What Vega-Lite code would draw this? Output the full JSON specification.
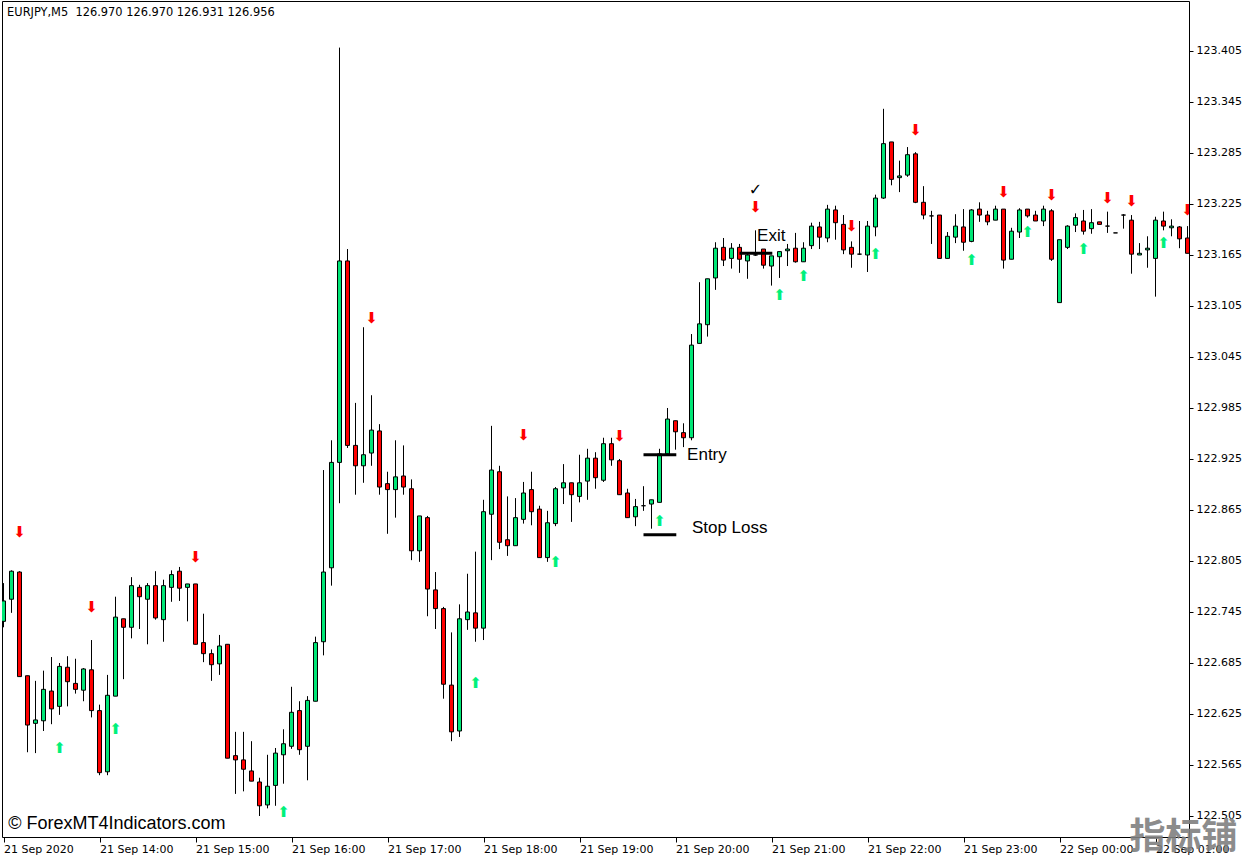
{
"$schema": "https://vega.github.io/schema/vega-lite/v6.json",
"width": 1187,
"height": 836,
"autosize": {"type": "none"},
"padding": {"left": 2, "top": 1, "right": 64, "bottom": 25},
"background": "white",
"config": {"view": {"stroke": "black", "strokeWidth": 1}},
"datasets": {
"candles": [
{"i":0,"o":122.734,"h":122.779,"l":122.727,"c":122.758},
{"i":1,"o":122.760,"h":122.794,"l":122.744,"c":122.793},
{"i":2,"o":122.792,"h":122.793,"l":122.669,"c":122.669},
{"i":3,"o":122.670,"h":122.670,"l":122.580,"c":122.612},
{"i":4,"o":122.614,"h":122.664,"l":122.579,"c":122.618},
{"i":5,"o":122.617,"h":122.676,"l":122.605,"c":122.654},
{"i":6,"o":122.652,"h":122.692,"l":122.613,"c":122.631},
{"i":7,"o":122.634,"h":122.685,"l":122.624,"c":122.681},
{"i":8,"o":122.680,"h":122.693,"l":122.634,"c":122.663},
{"i":9,"o":122.661,"h":122.690,"l":122.649,"c":122.654},
{"i":10,"o":122.653,"h":122.679,"l":122.640,"c":122.678},
{"i":11,"o":122.677,"h":122.712,"l":122.621,"c":122.629},
{"i":12,"o":122.629,"h":122.636,"l":122.553,"c":122.556},
{"i":13,"o":122.557,"h":122.671,"l":122.553,"c":122.647},
{"i":14,"o":122.646,"h":122.763,"l":122.646,"c":122.739},
{"i":15,"o":122.737,"h":122.737,"l":122.666,"c":122.727},
{"i":16,"o":122.727,"h":122.786,"l":122.714,"c":122.776},
{"i":17,"o":122.774,"h":122.777,"l":122.725,"c":122.763},
{"i":18,"o":122.760,"h":122.779,"l":122.707,"c":122.776},
{"i":19,"o":122.776,"h":122.793,"l":122.736,"c":122.738},
{"i":20,"o":122.736,"h":122.783,"l":122.710,"c":122.776},
{"i":21,"o":122.774,"h":122.794,"l":122.757,"c":122.789},
{"i":22,"o":122.793,"h":122.798,"l":122.758,"c":122.773},
{"i":23,"o":122.774,"h":122.778,"l":122.734,"c":122.778},
{"i":24,"o":122.778,"h":122.778,"l":122.707,"c":122.707},
{"i":25,"o":122.709,"h":122.743,"l":122.686,"c":122.696},
{"i":26,"o":122.696,"h":122.701,"l":122.664,"c":122.683},
{"i":27,"o":122.684,"h":122.718,"l":122.671,"c":122.705},
{"i":28,"o":122.707,"h":122.707,"l":122.573,"c":122.573},
{"i":29,"o":122.576,"h":122.604,"l":122.531,"c":122.571},
{"i":30,"o":122.571,"h":122.604,"l":122.534,"c":122.560},
{"i":31,"o":122.558,"h":122.593,"l":122.546,"c":122.546},
{"i":32,"o":122.545,"h":122.550,"l":122.505,"c":122.517},
{"i":33,"o":122.518,"h":122.577,"l":122.514,"c":122.540},
{"i":34,"o":122.541,"h":122.585,"l":122.517,"c":122.579},
{"i":35,"o":122.577,"h":122.607,"l":122.543,"c":122.590},
{"i":36,"o":122.587,"h":122.657,"l":122.584,"c":122.627},
{"i":37,"o":122.629,"h":122.640,"l":122.577,"c":122.583},
{"i":38,"o":122.587,"h":122.646,"l":122.547,"c":122.641},
{"i":39,"o":122.640,"h":122.716,"l":122.640,"c":122.709},
{"i":40,"o":122.710,"h":122.912,"l":122.694,"c":122.792},
{"i":41,"o":122.797,"h":122.947,"l":122.776,"c":122.921},
{"i":42,"o":122.921,"h":123.409,"l":122.873,"c":123.158},
{"i":43,"o":123.158,"h":123.172,"l":122.938,"c":122.941},
{"i":44,"o":122.941,"h":122.991,"l":122.883,"c":122.917},
{"i":45,"o":122.917,"h":123.080,"l":122.897,"c":122.930},
{"i":46,"o":122.932,"h":123.000,"l":122.917,"c":122.959},
{"i":47,"o":122.958,"h":122.966,"l":122.883,"c":122.892},
{"i":48,"o":122.896,"h":122.910,"l":122.837,"c":122.889},
{"i":49,"o":122.889,"h":122.947,"l":122.856,"c":122.904},
{"i":50,"o":122.905,"h":122.941,"l":122.883,"c":122.892},
{"i":51,"o":122.890,"h":122.901,"l":122.806,"c":122.817},
{"i":52,"o":122.817,"h":122.858,"l":122.804,"c":122.858},
{"i":53,"o":122.856,"h":122.858,"l":122.740,"c":122.772},
{"i":54,"o":122.771,"h":122.792,"l":122.725,"c":122.749},
{"i":55,"o":122.749,"h":122.751,"l":122.643,"c":122.660},
{"i":56,"o":122.659,"h":122.721,"l":122.593,"c":122.604},
{"i":57,"o":122.605,"h":122.754,"l":122.598,"c":122.737},
{"i":58,"o":122.736,"h":122.790,"l":122.724,"c":122.745},
{"i":59,"o":122.744,"h":122.816,"l":122.710,"c":122.726},
{"i":60,"o":122.726,"h":122.877,"l":122.712,"c":122.863},
{"i":61,"o":122.860,"h":122.964,"l":122.806,"c":122.912},
{"i":62,"o":122.910,"h":122.917,"l":122.819,"c":122.827},
{"i":63,"o":122.830,"h":122.881,"l":122.811,"c":122.823},
{"i":64,"o":122.823,"h":122.879,"l":122.823,"c":122.856},
{"i":65,"o":122.854,"h":122.898,"l":122.849,"c":122.885},
{"i":66,"o":122.889,"h":122.910,"l":122.847,"c":122.863},
{"i":67,"o":122.866,"h":122.870,"l":122.809,"c":122.809},
{"i":68,"o":122.809,"h":122.864,"l":122.804,"c":122.850},
{"i":69,"o":122.849,"h":122.892,"l":122.846,"c":122.890},
{"i":70,"o":122.891,"h":122.919,"l":122.872,"c":122.897},
{"i":71,"o":122.897,"h":122.897,"l":122.851,"c":122.883},
{"i":72,"o":122.881,"h":122.930,"l":122.874,"c":122.897},
{"i":73,"o":122.899,"h":122.937,"l":122.877,"c":122.926},
{"i":74,"o":122.926,"h":122.933,"l":122.890,"c":122.903},
{"i":75,"o":122.900,"h":122.950,"l":122.898,"c":122.943},
{"i":76,"o":122.943,"h":122.950,"l":122.917,"c":122.924},
{"i":77,"o":122.923,"h":122.925,"l":122.883,"c":122.883},
{"i":78,"o":122.885,"h":122.890,"l":122.856,"c":122.856},
{"i":79,"o":122.857,"h":122.878,"l":122.846,"c":122.869},
{"i":80,"o":122.870,"h":122.893,"l":122.864,"c":122.870},
{"i":81,"o":122.872,"h":122.877,"l":122.843,"c":122.877},
{"i":82,"o":122.874,"h":122.937,"l":122.874,"c":122.931},
{"i":83,"o":122.931,"h":122.985,"l":122.931,"c":122.972},
{"i":84,"o":122.970,"h":122.970,"l":122.936,"c":122.957},
{"i":85,"o":122.956,"h":122.967,"l":122.939,"c":122.950},
{"i":86,"o":122.950,"h":123.072,"l":122.947,"c":123.059},
{"i":87,"o":123.061,"h":123.133,"l":123.061,"c":123.084},
{"i":88,"o":123.083,"h":123.137,"l":123.069,"c":123.137},
{"i":89,"o":123.138,"h":123.180,"l":123.124,"c":123.173},
{"i":90,"o":123.174,"h":123.185,"l":123.152,"c":123.159},
{"i":91,"o":123.161,"h":123.179,"l":123.149,"c":123.173},
{"i":92,"o":123.174,"h":123.178,"l":123.144,"c":123.160},
{"i":93,"o":123.158,"h":123.167,"l":123.137,"c":123.165},
{"i":94,"o":123.165,"h":123.194,"l":123.164,"c":123.165},
{"i":95,"o":123.172,"h":123.172,"l":123.149,"c":123.153},
{"i":96,"o":123.152,"h":123.164,"l":123.129,"c":123.164},
{"i":97,"o":123.163,"h":123.169,"l":123.138,"c":123.169},
{"i":98,"o":123.170,"h":123.178,"l":123.152,"c":123.172},
{"i":99,"o":123.173,"h":123.191,"l":123.156,"c":123.157},
{"i":100,"o":123.157,"h":123.180,"l":123.157,"c":123.173},
{"i":101,"o":123.176,"h":123.203,"l":123.172,"c":123.199},
{"i":102,"o":123.198,"h":123.204,"l":123.172,"c":123.186},
{"i":103,"o":123.185,"h":123.224,"l":123.180,"c":123.219},
{"i":104,"o":123.218,"h":123.223,"l":123.183,"c":123.203},
{"i":105,"o":123.201,"h":123.212,"l":123.166,"c":123.171},
{"i":106,"o":123.174,"h":123.181,"l":123.150,"c":123.166},
{"i":107,"o":123.166,"h":123.205,"l":123.165,"c":123.166},
{"i":108,"o":123.165,"h":123.205,"l":123.145,"c":123.199},
{"i":109,"o":123.198,"h":123.236,"l":123.187,"c":123.232},
{"i":110,"o":123.232,"h":123.337,"l":123.231,"c":123.296},
{"i":111,"o":123.298,"h":123.298,"l":123.247,"c":123.254},
{"i":112,"o":123.256,"h":123.276,"l":123.239,"c":123.258},
{"i":113,"o":123.259,"h":123.292,"l":123.257,"c":123.283},
{"i":114,"o":123.284,"h":123.286,"l":123.226,"c":123.227},
{"i":115,"o":123.227,"h":123.246,"l":123.207,"c":123.212},
{"i":116,"o":123.211,"h":123.217,"l":123.178,"c":123.211},
{"i":117,"o":123.212,"h":123.212,"l":123.161,"c":123.161},
{"i":118,"o":123.161,"h":123.192,"l":123.161,"c":123.187},
{"i":119,"o":123.186,"h":123.213,"l":123.179,"c":123.199},
{"i":120,"o":123.198,"h":123.219,"l":123.170,"c":123.180},
{"i":121,"o":123.181,"h":123.219,"l":123.180,"c":123.218},
{"i":122,"o":123.219,"h":123.227,"l":123.204,"c":123.212},
{"i":123,"o":123.212,"h":123.217,"l":123.200,"c":123.204},
{"i":124,"o":123.206,"h":123.223,"l":123.206,"c":123.219},
{"i":125,"o":123.219,"h":123.219,"l":123.149,"c":123.159},
{"i":126,"o":123.160,"h":123.197,"l":123.160,"c":123.193},
{"i":127,"o":123.192,"h":123.220,"l":123.185,"c":123.218},
{"i":128,"o":123.219,"h":123.219,"l":123.209,"c":123.211},
{"i":129,"o":123.212,"h":123.217,"l":123.205,"c":123.205},
{"i":130,"o":123.205,"h":123.223,"l":123.199,"c":123.219},
{"i":131,"o":123.217,"h":123.219,"l":123.158,"c":123.160},
{"i":132,"o":123.109,"h":123.183,"l":123.109,"c":123.183},
{"i":133,"o":123.174,"h":123.200,"l":123.172,"c":123.199},
{"i":134,"o":123.200,"h":123.214,"l":123.192,"c":123.209},
{"i":135,"o":123.205,"h":123.218,"l":123.189,"c":123.193},
{"i":136,"o":123.196,"h":123.219,"l":123.190,"c":123.203},
{"i":137,"o":123.204,"h":123.204,"l":123.201,"c":123.201},
{"i":138,"o":123.199,"h":123.216,"l":123.191,"c":123.199},
{"i":139,"o":123.191,"h":123.191,"l":123.191,"c":123.191},
{"i":140,"o":123.212,"h":123.213,"l":123.196,"c":123.212},
{"i":141,"o":123.206,"h":123.212,"l":123.143,"c":123.166},
{"i":142,"o":123.165,"h":123.179,"l":123.165,"c":123.167},
{"i":143,"o":123.171,"h":123.187,"l":123.150,"c":123.173},
{"i":144,"o":123.161,"h":123.210,"l":123.116,"c":123.206},
{"i":145,"o":123.205,"h":123.216,"l":123.194,"c":123.199},
{"i":146,"o":123.197,"h":123.207,"l":123.187,"c":123.199},
{"i":147,"o":123.198,"h":123.199,"l":123.173,"c":123.184},
{"i":148,"o":123.185,"h":123.199,"l":123.167,"c":123.167}
],
"arrows": [
{"i":2,"p":122.839,"s":"⬇"},
{"i":11,"p":122.751,"s":"⬇"},
{"i":24,"p":122.810,"s":"⬇"},
{"i":46,"p":123.091,"s":"⬇"},
{"i":65,"p":122.953,"s":"⬇"},
{"i":77,"p":122.952,"s":"⬇"},
{"i":94,"p":123.221,"s":"⬇"},
{"i":106,"p":123.199,"s":"⬇"},
{"i":114,"p":123.312,"s":"⬇"},
{"i":125,"p":123.239,"s":"⬇"},
{"i":131,"p":123.236,"s":"⬇"},
{"i":138,"p":123.232,"s":"⬇"},
{"i":141,"p":123.229,"s":"⬇"},
{"i":148,"p":123.218,"s":"⬇"},
{"i":7,"p":122.585,"s":"⬆"},
{"i":14,"p":122.607,"s":"⬆"},
{"i":35,"p":122.510,"s":"⬆"},
{"i":59,"p":122.661,"s":"⬆"},
{"i":69,"p":122.804,"s":"⬆"},
{"i":82,"p":122.852,"s":"⬆"},
{"i":97,"p":123.118,"s":"⬆"},
{"i":100,"p":123.140,"s":"⬆"},
{"i":109,"p":123.166,"s":"⬆"},
{"i":121,"p":123.159,"s":"⬆"},
{"i":128,"p":123.192,"s":"⬆"},
{"i":135,"p":123.172,"s":"⬆"},
{"i":145,"p":123.179,"s":"⬆"}
],
"levels": [
{"name":"Entry","i0":80,"i1":84.1,"p":122.930},
{"name":"Stop Loss","i0":80,"i1":84.1,"p":122.836},
{"name":"Exit","i0":92,"i1":96.1,"p":123.167}
],
"notes": [
{"text":"Entry","i":85.45,"p":122.930},
{"text":"Stop Loss","i":86.05,"p":122.844},
{"text":"Exit","i":94.2,"p":123.187}
]
},
"layer": [
{
"data": {"name": "candles"},
"mark": {"type": "rule", "color": "black", "strokeWidth": 1, "clip": true},
"encoding": {
"x": {"field": "i", "type": "quantitative", "title": null,
"scale": {"domain": [-0.1875, 148.1875], "nice": false, "zero": false, "padding": 0},
"axis": {"values": [0,12,24,36,48,60,72,84,96,108,120,132,144],
"labelExpr": "['21 Sep 2020','21 Sep 14:00','21 Sep 15:00','21 Sep 16:00','21 Sep 17:00','21 Sep 18:00','21 Sep 19:00','21 Sep 20:00','21 Sep 21:00','21 Sep 22:00','21 Sep 23:00','22 Sep 00:00','22 Sep 01:00'][round(datum.value/12)]",
"labelAlign": "left", "labelBaseline": "top", "labelPadding": 1, "tickSize": 5, "tickColor": "black",
"domain": false, "grid": false, "labelFont": "DejaVu Sans", "labelFontSize": 11, "labelColor": "black",
"labelOverlap": false, "labelBound": false, "labelFlush": false}},
"y": {"field": "l", "type": "quantitative", "title": null,
"scale": {"domain": [122.48029, 123.46382], "nice": false, "zero": false, "padding": 0},
"axis": {"orient": "right", "values": [122.505,122.565,122.625,122.685,122.745,122.805,122.865,122.925,122.985,123.045,123.105,123.165,123.225,123.285,123.345,123.405],
"format": ".3f", "tickSize": 4, "tickColor": "black", "labelPadding": 3, "labelAlign": "left", "labelBaseline": "middle",
"domain": false, "grid": false, "labelFont": "DejaVu Sans", "labelFontSize": 11, "labelColor": "black",
"labelOverlap": false, "labelBound": false, "labelFlush": false}},
"y2": {"field": "h"}
}
},
{
"data": {"name": "candles"},
"mark": {"type": "bar", "width": 4, "stroke": "black", "strokeWidth": 1, "clip": true},
"encoding": {
"x": {"field": "i", "type": "quantitative", "title": null},
"y": {"field": "o", "type": "quantitative", "title": null},
"y2": {"field": "c"},
"fill": {"condition": {"test": "datum.c >= datum.o", "value": "#00E676"}, "value": "#FF0000"}
}
},
{
"data": {"name": "arrows"},
"mark": {"type": "text", "font": "DejaVu Sans", "fontSize": 15, "align": "center", "baseline": "middle", "clip": true},
"encoding": {
"x": {"field": "i", "type": "quantitative", "title": null},
"y": {"field": "p", "type": "quantitative", "title": null},
"text": {"field": "s"},
"color": {"condition": {"test": "datum.s == '⬇'", "value": "#FF0000"}, "value": "#00F07A"}
}
},
{
"data": {"name": "levels"},
"mark": {"type": "rule", "color": "black", "strokeWidth": 3},
"encoding": {
"x": {"field": "i0", "type": "quantitative", "title": null},
"x2": {"field": "i1"},
"y": {"field": "p", "type": "quantitative", "title": null}
}
},
{
"data": {"name": "notes"},
"mark": {"type": "text", "font": "Liberation Sans", "fontSize": 17, "align": "left", "baseline": "middle", "color": "black"},
"encoding": {
"x": {"field": "i", "type": "quantitative", "title": null},
"y": {"field": "p", "type": "quantitative", "title": null},
"text": {"field": "text"}
}
},
{
"data": {"values": [{"text": "✓", "i": 94, "p": 123.241}]},
"mark": {"type": "text", "font": "DejaVu Sans", "fontSize": 16, "align": "center", "baseline": "middle", "color": "black"},
"encoding": {
"x": {"field": "i", "type": "quantitative", "title": null},
"y": {"field": "p", "type": "quantitative", "title": null},
"text": {"field": "text"}
}
},
{
"data": {"values": [{"text": "EURJPY,M5\u00a0 126.970 126.970 126.931 126.956", "i": 0.45, "p": 123.4497}]},
"mark": {"type": "text", "font": "DejaVu Sans", "fontSize": 11.4, "align": "left", "baseline": "middle", "color": "black"},
"encoding": {
"x": {"field": "i", "type": "quantitative", "title": null},
"y": {"field": "p", "type": "quantitative", "title": null},
"text": {"field": "text"}
}
},
{
"data": {"values": [{"text": "© ForexMT4Indicators.com", "i": 0.58, "p": 122.496}]},
"mark": {"type": "text", "font": "Liberation Sans", "fontSize": 18, "align": "left", "baseline": "middle", "color": "black"},
"encoding": {
"x": {"field": "i", "type": "quantitative", "title": null},
"y": {"field": "p", "type": "quantitative", "title": null},
"text": {"field": "text"}
}
},
{
"data": {"values": [{"text": "指标铺", "i": 147.5, "p": 122.479}]},
"mark": {"type": "text", "font": "Noto Sans CJK SC", "fontWeight": "bold", "fontSize": 36, "align": "center", "baseline": "middle", "color": "#808080", "opacity": 0.9},
"encoding": {
"x": {"field": "i", "type": "quantitative", "title": null},
"y": {"field": "p", "type": "quantitative", "title": null},
"text": {"field": "text"}
}
}
]
}
